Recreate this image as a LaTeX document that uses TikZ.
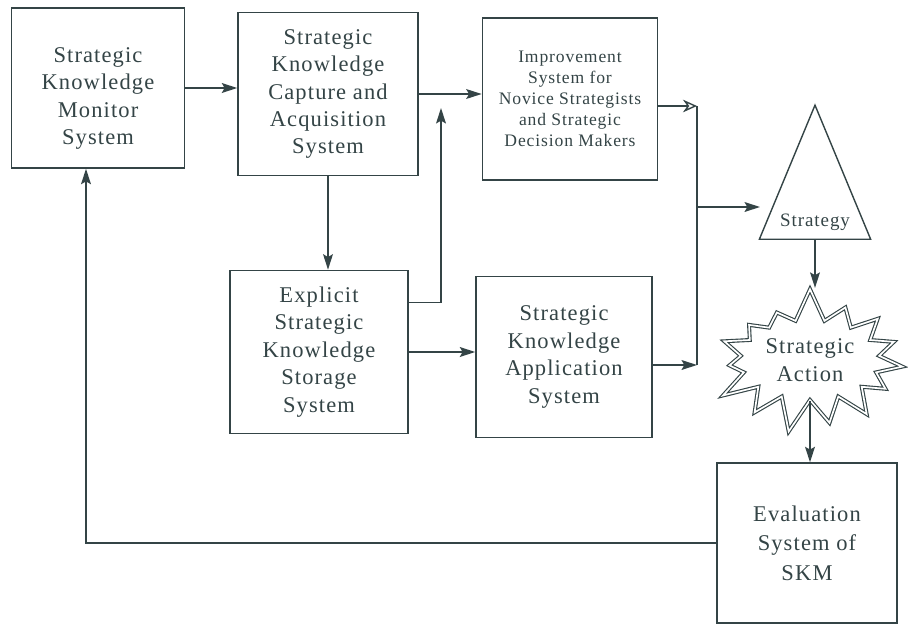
\documentclass[tikz,border=0pt]{standalone}
\usepackage{fontspec}
\setmainfont[LetterSpace=5]{Liberation Serif}
\usepackage{tikz}
\usetikzlibrary{shapes,shapes.geometric,shapes.symbols,positioning,calc,arrows.meta}
\definecolor{ink}{RGB}{52, 68, 70}

\begin{document}
\begin{tikzpicture}[
    x=0.025cm, y=-0.025cm,
    box/.style={rectangle, draw=ink, line width=1pt, align=center, text=ink,
        font=\fontsize{16}{19.5}\selectfont},
    arr/.style={draw=ink, line width=1pt, -{Stealth[length=11pt, width=7pt, inset=2pt]}},
    line/.style={draw=ink, line width=1pt}
]
    \useasboundingbox (0,0) rectangle (908,625);

    % Boxes
    \node[box, minimum width=4.33cm, minimum height=4cm] (monitor) at (98,88)
        {\rule{0pt}{0.9cm}Strategic\\Knowledge\\Monitor\\System};
    \node[box, minimum width=4.5cm, minimum height=4.08cm] (capture) at (328,94)
        {Strategic\\Knowledge\\Capture and\\Acquisition\\System};
    \node[box, minimum width=4.38cm, minimum height=4.05cm,
        font=\fontsize{12.5}{15}\selectfont] (improve) at (570,99)
        {Improvement\\System for\\Novice Strategists\\and Strategic\\Decision Makers};
    \node[box, minimum width=4.45cm, minimum height=4.08cm] (storage) at (319,352)
        {Explicit\\Strategic\\Knowledge\\Storage\\System};
    \node[box, minimum width=4.4cm, minimum height=4.03cm] (apply) at (564,357)
        {Strategic\\Knowledge\\Application\\System};
    \node[box, minimum width=4.5cm, minimum height=4cm,
        font=\fontsize{16}{21}\selectfont] (eval) at (807,543)
        {Evaluation\\System of\\SKM};

    % Strategy and action
    \node[isosceles triangle, isosceles triangle stretches, shape border rotate=90,
        draw=ink, line width=1pt, text=ink, minimum width=2.78cm, minimum height=3.35cm,
        inner sep=1pt, font=\fontsize{13.5}{15}\selectfont] (strategy) at (815,222) {Strategy};
    \node[starburst, starburst points=15, starburst point height=0.85cm, random starburst=7,
        draw=ink, double=white, double distance=1.2pt, line width=0.8pt, text=ink,
        minimum width=4.85cm, minimum height=3.7cm, align=center,
        font=\fontsize{16}{19.5}\selectfont] (action) at (810,360) {Strategic\\Action};

    % Junctions
    \coordinate (up) at (441,108);
    \coordinate (m1) at (697,106);
    \coordinate (m2) at (697,365);
    \coordinate (fb) at (86,543);

    % Connectors
    \draw[arr] (monitor.east) -- (monitor.east -| capture.west);
    \draw[arr] (capture.east) -- (capture.east -| improve.west);
    \draw[arr] (capture.south) -- (capture.south |- storage.north);
    \draw[arr] ($(storage.north east)!0.2!(storage.south east)$) -| (up);
    \draw[arr] (storage.east) -- (storage.east -| apply.west);
    \draw[draw=ink, line width=1pt, -{Stealth[open, length=10pt, width=9pt]}] (improve.east |- m1) -- (m1);
    \draw[line] (m1) -- (m2);
    \draw[arr] (apply.east |- m2) -- (m2);
    \draw[arr] (m1 |- 0,207) -- (760,207);
    \draw[arr] (strategy.south) -- (strategy.south |- action.north);
    \draw[arr] (action.south) -- (action.south |- eval.north);
    \draw[arr] (eval.west) -- (fb) -- (fb |- monitor.south);
\end{tikzpicture}
\end{document}
